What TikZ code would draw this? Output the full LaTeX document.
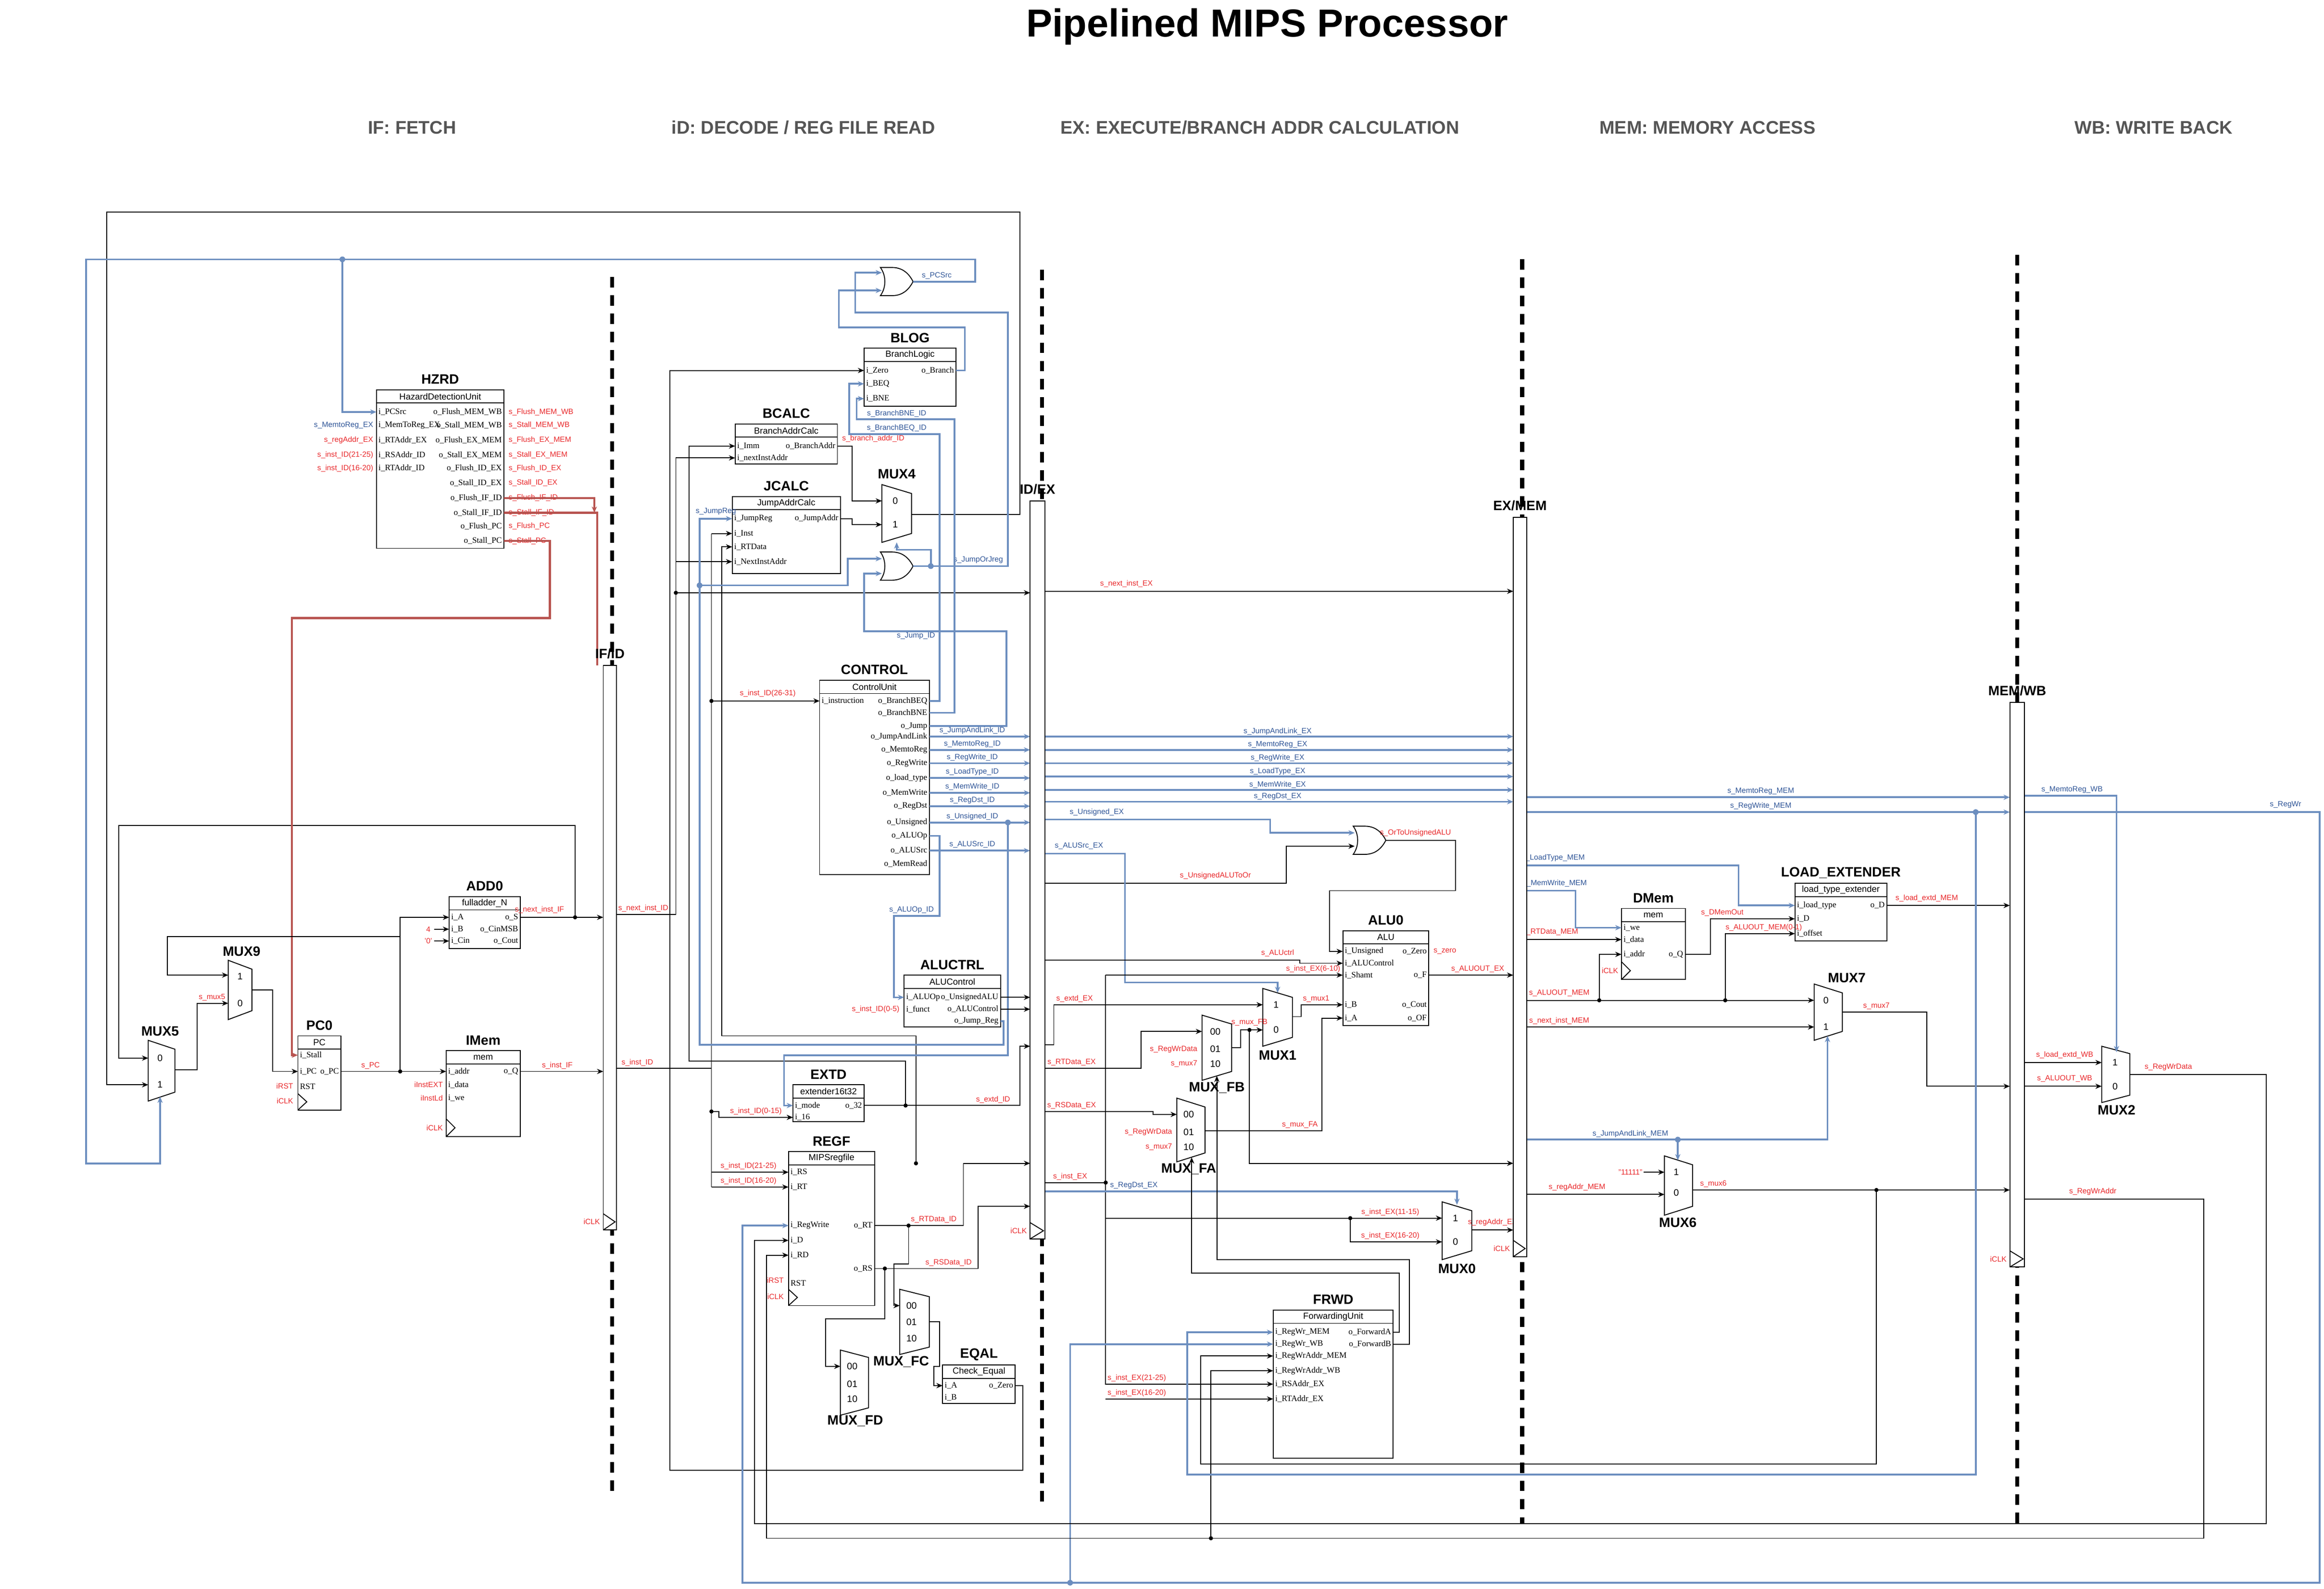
\documentclass[tikz,border=0pt]{standalone}
\usepackage{fontspec}
\setmainfont{Liberation Serif}
\setsansfont{Liberation Sans}
\usetikzlibrary{arrows.meta}

\definecolor{ctlblue}{HTML}{6C8EBF}
\definecolor{hzred}{HTML}{B85450}
\definecolor{sigred}{HTML}{E8282B}
\definecolor{csigblue}{HTML}{2F5597}
\definecolor{stagegray}{HTML}{555555}

\tikzset{
  box/.style={draw=black,line width=0.35pt},
  wire/.style={draw=black,line width=0.35pt},
  arr/.style={-{Stealth[length=2.4pt,width=2pt]}},
  ctl/.style={draw=ctlblue,line width=0.7pt},
  hz/.style={draw=hzred,line width=0.8pt},
  stage/.style={line width=1.6pt,dash pattern=on 4pt off 3pt},
  port/.style={font=\fontsize{3.2}{3.6}\selectfont,inner sep=0.6pt},
  cls/.style={font=\sffamily\fontsize{3.4}{4}\selectfont,inner sep=0.5pt},
  blkname/.style={font=\sffamily\bfseries\fontsize{5.2}{6}\selectfont,inner sep=0.5pt},
  sig/.style={text=sigred,font=\sffamily\fontsize{2.9}{3.4}\selectfont,inner sep=0.5pt},
  csig/.style={text=csigblue,font=\sffamily\fontsize{2.9}{3.4}\selectfont,inner sep=0.5pt},
  muxt/.style={font=\sffamily\fontsize{3.6}{4}\selectfont,inner sep=0.5pt},
  stagelbl/.style={text=stagegray,font=\sffamily\bfseries\fontsize{7}{8}\selectfont},
}

% block with title bar and name above
\newcommand\blk[7]{%
  \draw[box] (#2,#3) rectangle (#4,#5);
  \draw[box] (#2,#3+9) -- (#4,#3+9);
  \node[cls] (#1) at ({(#2+#4)/2},#3+4.5) {#6};
  \node[blkname] at ({(#2+#4)/2},#3-7) {#7};}
\newcommand\pin[3]{\node[port,anchor=west] at (#1,#2) {#3};}
\newcommand\pout[3]{\node[port,anchor=east] at (#1,#2) {#3};}
\newcommand\mux[6]{%
  \draw[box] (#2,#3) -- (#4,#3+#6) -- (#4,#5-#6) -- (#2,#5) -- cycle;
  \coordinate (#1) at ({(#2+#4)/2},{(#3+#5)/2});}
\newcommand\orgate[3]{%
  \draw[box] (#2,#3-9.5) -- (#2+8,#3-9.5) .. controls (#2+16,#3-9.5) and (#2+20,#3-4) .. (#2+22,#3)
    .. controls (#2+20,#3+4) and (#2+16,#3+9.5) .. (#2+8,#3+9.5) -- (#2,#3+9.5)
    .. controls (#2+4,#3+4) and (#2+4,#3-4) .. (#2,#3-9.5) -- cycle;
  \coordinate (#1) at (#2+22,#3);}
\newcommand\preg[6]{%
  \draw[box,fill=white] (#2,#3) rectangle (#4,#5);
  \draw[box] (#2,#5-11) -- (#4-1,#5-5.5) -- (#2,#5);
  \node[blkname] (#1) at ({(#2+#4)/2},#3-8) {#6};
  \node[sig,anchor=east] at (#2-1,#5-5.5) {iCLK};}
\newcommand\jn[2]{\fill (#1,#2) circle (0.8pt);}
\newcommand\jnb[2]{\fill[ctlblue] (#1,#2) circle (1.1pt);}
\newcommand\clk[3]{\draw[box] (#1,#2) -- (#1+6,{(#2+#3)/2}) -- (#1,#3);}

\begin{document}
\begin{tikzpicture}[x=0.2mm,y=-0.2mm]
\useasboundingbox (0,0) rectangle (1568,1072);

% titles
\node[font=\sffamily\bfseries\fontsize{15}{18}\selectfont] at (855,18) {Pipelined MIPS Processor};
\node[stagelbl] at (278,86) {IF: FETCH};
\node[stagelbl] at (542,86) {iD: DECODE / REG FILE READ};
\node[stagelbl] at (850,86) {EX: EXECUTE/BRANCH ADDR CALCULATION};
\node[stagelbl] at (1152,86) {MEM: MEMORY ACCESS};
\node[stagelbl] at (1453,86) {WB: WRITE BACK};

% stage borders
\draw[stage] (413,187) -- (413,1010);
\draw[stage] (703,182) -- (703,1015);
\draw[stage] (1027,175) -- (1027,1028);
\draw[stage] (1361,172) -- (1361,1033);

% ---------------- blocks
\blk{hzrd}{254}{263}{340}{370}{HazardDetectionUnit}{HZRD}
\pin{254}{278}{i\_PCSrc}
\pin{254}{287}{i\_MemToReg\_EX}
\pin{254}{297}{i\_RTAddr\_EX}
\pin{254}{307}{i\_RSAddr\_ID}
\pin{254}{316}{i\_RTAddr\_ID}
\foreach \y/\t in {278/Flush\_MEM\_WB,287/Stall\_MEM\_WB,297/Flush\_EX\_MEM,307/Stall\_EX\_MEM,
  316/Flush\_ID\_EX,326/Stall\_ID\_EX,336/Flush\_IF\_ID,346/Stall\_IF\_ID,355/Flush\_PC,365/Stall\_PC}{
  \pout{340}{\y}{o\_\t}
  \node[sig,anchor=west] at (342,\y) {s\_\t};
}
\node[csig,anchor=east] at (253,287) {s\_MemtoReg\_EX};
\node[sig,anchor=east] at (253,297) {s\_regAddr\_EX};
\node[sig,anchor=east] at (253,307) {s\_inst\_ID(21-25)};
\node[sig,anchor=east] at (253,316) {s\_inst\_ID(16-20)};

\blk{add0}{303}{605}{351}{640}{fulladder\_N}{ADD0}
\pin{303}{619}{i\_A}\pin{303}{627}{i\_B}\pin{303}{635}{i\_Cin}
\pout{351}{619}{o\_S}\pout{351}{627}{o\_CinMSB}\pout{351}{635}{o\_Cout}
\node[sig] at (289,627) {4};
\node[sig] at (289,635) {'0'};
\draw[wire,arr] (293,627) -- (303,627);
\draw[wire,arr] (293,635) -- (303,635);

\blk{pc0}{201}{699}{230}{749}{PC}{PC0}
\pin{201}{712}{i\_Stall}\pin{201}{723}{i\_PC}\pin{201}{733}{RST}
\pout{230}{723}{o\_PC}\clk{201}{738}{749}
\node[sig,anchor=east] at (199,733) {iRST};
\node[sig,anchor=east] at (199,743) {iCLK};

\blk{imem}{301}{709}{351}{767}{mem}{IMem}
\pin{301}{723}{i\_addr}\pin{301}{732}{i\_data}\pin{301}{741}{i\_we}
\pout{351}{723}{o\_Q}\clk{301}{755}{767}
\node[sig,anchor=east] at (300,732) {iInstEXT};
\node[sig,anchor=east] at (300,741) {iInstLd};
\node[sig,anchor=east] at (300,761) {iCLK};

\blk{blog}{583}{235}{645}{274}{BranchLogic}{BLOG}
\pin{583}{250}{i\_Zero}\pin{583}{259}{i\_BEQ}\pin{583}{269}{i\_BNE}
\pout{645}{250}{o\_Branch}

\blk{bcalc}{496}{286}{565}{313}{BranchAddrCalc}{BCALC}
\pin{496}{301}{i\_Imm}\pin{496}{309}{i\_nextInstAddr}
\pout{565}{301}{o\_BranchAddr}

\blk{jcalc}{494}{335}{567}{387}{JumpAddrCalc}{JCALC}
\pin{494}{350}{i\_JumpReg}\pin{494}{360}{i\_Inst}\pin{494}{369}{i\_RTData}\pin{494}{379}{i\_NextInstAddr}
\pout{567}{350}{o\_JumpAddr}

\blk{control}{553}{459}{627}{590}{ControlUnit}{CONTROL}
\pin{553}{473}{i\_instruction}
\foreach \y/\t in {473/BranchBEQ,481/BranchBNE,490/Jump,497/JumpAndLink,506/MemtoReg,515/RegWrite,
  525/load\_type,535/MemWrite,544/RegDst,555/Unsigned,564/ALUOp,574/ALUSrc,583/MemRead}{
  \pout{627}{\y}{o\_\t}
}

\blk{aluctrl}{610}{658}{675}{693}{ALUControl}{ALUCTRL}
\pin{610}{673}{i\_ALUOp}\pin{610}{681}{i\_funct}
\pout{675}{673}{o\_UnsignedALU}\pout{675}{681}{o\_ALUControl}\pout{675}{689}{o\_Jump\_Reg}
\node[sig,anchor=east] at (608,681) {s\_inst\_ID(0-5)};

\blk{extd}{535}{732}{583}{757}{extender16t32}{EXTD}
\pin{535}{746}{i\_mode}\pin{535}{754}{i\_16}\pout{583}{746}{o\_32}

\blk{regf}{532}{777}{590}{881}{MIPSregfile}{REGF}
\pin{532}{791}{i\_RS}\pin{532}{801}{i\_RT}\pin{532}{827}{i\_RegWrite}
\pin{532}{837}{i\_D}\pin{532}{847}{i\_RD}\pin{532}{866}{RST}
\pout{590}{827}{o\_RT}\pout{590}{856}{o\_RS}\clk{532}{870}{881}
\node[sig,anchor=east] at (530,864) {iRST};
\node[sig,anchor=east] at (530,875) {iCLK};

\blk{eqal}{636}{921}{685}{947}{Check\_Equal}{EQAL}
\pin{636}{935}{i\_A}\pin{636}{943}{i\_B}\pout{685}{935}{o\_Zero}

\blk{alu0}{906}{628}{964}{692}{ALU}{ALU0}
\pin{906}{642}{i\_Unsigned}\pin{906}{650}{i\_ALUControl}\pin{906}{658}{i\_Shamt}
\pin{906}{678}{i\_B}\pin{906}{687}{i\_A}
\pout{964}{642}{o\_Zero}\pout{964}{658}{o\_F}\pout{964}{678}{o\_Cout}\pout{964}{687}{o\_OF}
\node[sig,anchor=west] at (966,642) {s\_zero};

\blk{frwd}{859}{884}{940}{984}{ForwardingUnit}{FRWD}
\pin{859}{899}{i\_RegWr\_MEM}\pin{859}{907}{i\_RegWr\_WB}\pin{859}{915}{i\_RegWrAddr\_MEM}
\pin{859}{925}{i\_RegWrAddr\_WB}\pin{859}{934}{i\_RSAddr\_EX}\pin{859}{944}{i\_RTAddr\_EX}
\pout{940}{899}{o\_ForwardA}\pout{940}{907}{o\_ForwardB}

\blk{dmem}{1094}{613}{1137}{661}{mem}{DMem}
\pin{1094}{626}{i\_we}\pin{1094}{634}{i\_data}\pin{1094}{644}{i\_addr}
\pout{1137}{644}{o\_Q}\clk{1094}{649}{661}
\node[sig,anchor=east] at (1093,655) {iCLK};

\blk{lext}{1211}{596}{1273}{635}{load\_type\_extender}{LOAD\_EXTENDER}
\pin{1211}{611}{i\_load\_type}\pin{1211}{620}{i\_D}\pin{1211}{630}{i\_offset}
\pout{1273}{611}{o\_D}

% ---------------- multiplexers
\mux{mux9}{154}{648}{170}{688}{6}
\node[muxt] at (162,659) {1};\node[muxt] at (162,677) {0};
\node[blkname] at (163,642) {MUX9};
\mux{mux5}{100}{702}{118}{743}{6}
\node[muxt] at (108,714) {0};\node[muxt] at (108,732) {1};
\node[blkname] at (108,696) {MUX5};
\mux{mux4}{595}{327}{615}{366}{6}
\node[muxt] at (604,338) {0};\node[muxt] at (604,354) {1};
\node[blkname] at (605,320) {MUX4};
\mux{mux1}{852}{667}{872}{706}{6}
\node[muxt] at (861,678) {1};\node[muxt] at (861,695) {0};
\node[blkname] at (862,712) {MUX1};
\mux{muxfb}{811}{685}{831}{729}{6}
\node[muxt] at (820,696) {00};\node[muxt] at (820,708) {01};\node[muxt] at (820,718) {10};
\node[blkname] at (821,734) {MUX\_FB};
\mux{muxfa}{794}{741}{813}{784}{6}
\node[muxt] at (802,752) {00};\node[muxt] at (802,764) {01};\node[muxt] at (802,774) {10};
\node[blkname] at (802,789) {MUX\_FA};
\mux{mux0}{973}{811}{993}{850}{6}
\node[muxt] at (982,822) {1};\node[muxt] at (982,838) {0};
\node[blkname] at (983,856) {MUX0};
\mux{muxfc}{607}{870}{627}{914}{5}
\node[muxt] at (615,881) {00};\node[muxt] at (615,892) {01};\node[muxt] at (615,903) {10};
\node[blkname] at (608,919) {MUX\_FC};
\mux{muxfd}{567}{911}{586}{955}{5}
\node[muxt] at (575,922) {00};\node[muxt] at (575,934) {01};\node[muxt] at (575,944) {10};
\node[blkname] at (577,959) {MUX\_FD};
\mux{mux7}{1224}{664}{1243}{702}{6}
\node[muxt] at (1232,675) {0};\node[muxt] at (1232,693) {1};
\node[blkname] at (1246,660) {MUX7};
\mux{mux6}{1123}{780}{1142}{820}{6}
\node[muxt] at (1131,791) {1};\node[muxt] at (1131,805) {0};
\node[blkname] at (1132,825) {MUX6};
\mux{mux2}{1418}{706}{1437}{744}{5}
\node[muxt] at (1427,717) {1};\node[muxt] at (1427,733) {0};
\node[blkname] at (1428,749) {MUX2};

% ---------------- gates
\orgate{or1}{594}{190}
\orgate{or2}{594}{382}
\orgate{or3}{913}{567}

% ---------------- IF wires
\draw[wire,arr] (615,347) -- (688,347) -- (688,143) -- (72,143) -- (72,732) -- (100,732);
\draw[wire,arr] (388,619) -- (388,557) -- (80,557) -- (80,714) -- (100,714);
\draw[ctl,arr] (616,190) -- (658,190) -- (658,175) -- (58,175) -- (58,785) -- (108,785) -- (108,740);
\node[csig] at (632,186) {s\_PCSrc};
\draw[ctl,arr] (231,175) -- (231,278) -- (254,278); \jnb{231}{175}
\draw[hz,arr] (340,336) -- (401,336) -- (401,346);
\draw[hz] (340,346) -- (403,346) -- (403,449);
\draw[hz,arr] (340,365) -- (371,365) -- (371,417) -- (197,417) -- (197,712) -- (201,712);
\draw[wire,arr] (118,722) -- (133,722) -- (133,677) -- (154,677);
\node[sig] at (143,673) {s\_mux5};
\draw[wire,arr] (170,668) -- (184,668) -- (184,723) -- (201,723);
\draw[wire,arr] (230,723) -- (301,723); \node[sig] at (250,719) {s\_PC}; \jn{270}{723}
\draw[wire,arr] (270,723) -- (270,619) -- (303,619);
\draw[wire,arr] (270,632) -- (113,632) -- (113,658) -- (154,658);
\draw[wire,arr] (351,619) -- (407,619); \node[sig] at (364,614) {s\_next\_inst\_IF}; \jn{388}{619}
\draw[wire,arr] (351,723) -- (407,723); \node[sig] at (376,719) {s\_inst\_IF};

% ---------------- ID wires
\draw[wire,arr] (416,617) -- (456,617) -- (456,309) -- (496,309);
\node[sig] at (434,613) {s\_next\_inst\_ID};
\draw[wire,arr] (456,379) -- (494,379);
\draw[wire,arr] (456,400) -- (695,400); \jn{456}{400}
\draw[wire] (416,721) -- (480,721); \node[sig] at (430,717) {s\_inst\_ID};
\draw[wire] (480,360) -- (480,801);
\draw[wire,arr] (480,360) -- (494,360);
\draw[wire,arr] (480,473) -- (553,473); \jn{480}{473}
\node[sig] at (518,468) {s\_inst\_ID(26-31)};
\draw[wire,arr] (480,791) -- (532,791); \node[sig] at (505,787) {s\_inst\_ID(21-25)};
\draw[wire,arr] (480,801) -- (532,801); \node[sig] at (505,797) {s\_inst\_ID(16-20)};
\draw[wire,arr] (480,750) -- (485,750) -- (485,754) -- (535,754); \jn{480}{750}
\node[sig] at (510,750) {s\_inst\_ID(0-15)};
\draw[wire] (583,746) -- (611,746); \jn{611}{746}
\draw[wire,arr] (611,746) -- (688,746) -- (688,706) -- (695,706); \node[sig] at (670,742) {s\_extd\_ID};
\draw[wire,arr] (611,746) -- (611,716) -- (465,716) -- (465,301) -- (496,301);
\draw[wire,arr] (565,301) -- (575,301) -- (575,338) -- (595,338);
\node[sig,anchor=west] at (567,296) {s\_branch\_addr\_ID};
\draw[wire,arr] (567,350) -- (575,350) -- (575,354) -- (595,354);
\draw[wire,arr] (590,827) -- (650,827) -- (650,785) -- (695,785); \node[sig] at (630,823) {s\_RTData\_ID};
\draw[wire,arr] (618,785) -- (618,699) -- (487,699) -- (487,369) -- (494,369); \jn{618}{785}
\draw[wire,arr] (613,827) -- (613,853) -- (603,853) -- (603,881) -- (607,881); \jn{613}{827}
\draw[wire,arr] (590,856) -- (660,856) -- (660,814) -- (695,814); \node[sig] at (640,852) {s\_RSData\_ID};
\draw[wire,arr] (597,856) -- (597,890) -- (557,890) -- (557,922) -- (567,922); \jn{597}{856}
\draw[wire,arr] (627,892) -- (634,892) -- (634,922) -- (630,922) -- (630,935) -- (636,935);
\draw[wire,arr] (685,935) -- (690,935) -- (690,992) -- (452,992) -- (452,250) -- (583,250);
\draw[ctl,arr] (628,382) -- (628,371) -- (605,371) -- (605,366); \jnb{628}{382}
\draw[ctl,arr] (616,382) -- (680,382) -- (680,211) -- (577,211) -- (577,184) -- (595,184);
\node[csig] at (660,378) {s\_JumpOrJreg};
\draw[ctl,arr] (645,250) -- (651,250) -- (651,221) -- (566,221) -- (566,196) -- (595,196);
\draw[ctl,arr] (627,473) -- (634,473) -- (634,293) -- (573,293) -- (573,259) -- (583,259);
\node[csig] at (605,289) {s\_BranchBEQ\_ID};
\draw[ctl,arr] (627,481) -- (644,481) -- (644,283) -- (578,283) -- (578,269) -- (583,269);
\node[csig] at (605,279) {s\_BranchBNE\_ID};
\draw[ctl,arr] (627,490) -- (679,490) -- (679,426) -- (583,426) -- (583,387) -- (595,387);
\node[csig] at (618,429) {s\_Jump\_ID};
\draw[ctl,arr] (675,689) -- (677,689) -- (677,705) -- (472,705) -- (472,350) -- (494,350);
\node[csig] at (483,345) {s\_JumpReg};
\draw[ctl,arr] (472,395) -- (572,395) -- (572,377) -- (595,377); \jnb{472}{395}
\foreach \y/\t in {497/JumpAndLink,506/MemtoReg,515/RegWrite,525/LoadType,535/MemWrite,544/RegDst,555/Unsigned,574/ALUSrc}{
  \draw[ctl,arr] (627,\y) -- (695,\y);
  \node[csig] at (656,\y-4) {s\_\t\_ID};
}
\draw[ctl,arr] (680,555) -- (680,712) -- (529,712) -- (529,746) -- (535,746); \jnb{680}{555}
\draw[ctl,arr] (627,564) -- (634,564) -- (634,618) -- (603,618) -- (603,673) -- (610,673);
\node[csig] at (615,614) {s\_ALUOp\_ID};
\draw[wire,arr] (675,673) -- (695,673);
\draw[wire,arr] (675,681) -- (695,681);

% ---------------- EX wires
\foreach \y/\t in {497/JumpAndLink,506/MemtoReg,515/RegWrite,524/LoadType,533/MemWrite,541/RegDst}{
  \draw[ctl,arr] (705,\y) -- (1021,\y);
  \node[csig] at (862,\y-3.5) {s\_\t\_EX};
}
\draw[wire,arr] (705,399) -- (1021,399); \node[sig] at (760,394) {s\_next\_inst\_EX};
\draw[ctl,arr] (705,553) -- (857,553) -- (857,562) -- (914,562); \node[csig] at (740,548) {s\_Unsigned\_EX};
\draw[wire,arr] (705,596) -- (868,596) -- (868,571) -- (914,571); \node[sig] at (820,591) {s\_UnsignedALUToOr};
\draw[wire,arr] (935,567) -- (982,567) -- (982,601) -- (897,601) -- (897,642) -- (906,642);
\node[sig] at (955,562) {s\_OrToUnsignedALU};
\draw[ctl,arr] (705,576) -- (759,576) -- (759,663) -- (862,663) -- (862,670);
\node[csig] at (728,571) {s\_ALUSrc\_EX};
\draw[wire,arr] (705,648) -- (877,648) -- (877,650) -- (906,650); \node[sig] at (862,643) {s\_ALUctrl};
\draw[wire,arr] (746,658) -- (906,658); \node[sig] at (886,654) {s\_inst\_EX(6-10)};
\draw[wire] (705,798) -- (746,798); \node[sig] at (722,794) {s\_inst\_EX}; \jn{746}{798}
\draw[wire,arr] (746,658) -- (746,934) -- (859,934); \node[sig] at (767,930) {s\_inst\_EX(21-25)};
\draw[wire,arr] (746,944) -- (859,944); \node[sig] at (767,940) {s\_inst\_EX(16-20)};
\draw[wire,arr] (746,822) -- (973,822); \jn{911}{822} \node[sig] at (938,818) {s\_inst\_EX(11-15)};
\draw[wire,arr] (911,822) -- (911,838) -- (973,838); \node[sig] at (938,834) {s\_inst\_EX(16-20)};
\draw[ctl,arr] (705,804) -- (983,804) -- (983,813); \node[csig] at (765,800) {s\_RegDst\_EX};
\draw[wire,arr] (705,705) -- (711,705) -- (711,678) -- (852,678); \node[sig] at (725,674) {s\_extd\_EX};
\draw[wire,arr] (705,721) -- (770,721) -- (770,696) -- (811,696); \node[sig] at (723,717) {s\_RTData\_EX};
\draw[wire,arr] (705,750) -- (778,750) -- (778,752) -- (794,752); \node[sig] at (723,746) {s\_RSData\_EX};
\node[sig,anchor=east] at (809,708) {s\_RegWrData};\node[sig,anchor=east] at (809,718) {s\_mux7};
\node[sig,anchor=east] at (792,764) {s\_RegWrData};\node[sig,anchor=east] at (792,774) {s\_mux7};
\draw[wire,arr] (831,707) -- (837,707) -- (837,695) -- (852,695); \node[sig] at (843,690) {s\_mux\_FB};
\draw[wire,arr] (843,695) -- (843,785) -- (1021,785); \jn{843}{695}
\draw[wire,arr] (872,686) -- (878,686) -- (878,678) -- (906,678); \node[sig] at (888,674) {s\_mux1};
\draw[wire,arr] (813,763) -- (892,763) -- (892,687) -- (906,687); \node[sig] at (877,759) {s\_mux\_FA};
\draw[wire,arr] (964,658) -- (1021,658); \node[sig] at (997,654) {s\_ALUOUT\_EX};
\draw[wire,arr] (993,830) -- (1021,830); \node[sig] at (1007,825) {s\_regAddr\_EX};
\draw[wire,arr] (940,899) -- (944,899) -- (944,859) -- (804,859) -- (804,781);
\draw[wire,arr] (940,907) -- (951,907) -- (951,850) -- (821,850) -- (821,726);

% ---------------- MEM wires
\draw[ctl,arr] (1030,538) -- (1356,538); \node[csig] at (1188,534) {s\_MemtoReg\_MEM};
\draw[ctl,arr] (1030,548) -- (1356,548); \node[csig] at (1188,544) {s\_RegWrite\_MEM}; \jnb{1333}{548}
\draw[ctl,arr] (1030,584) -- (1173,584) -- (1173,611) -- (1211,611); \node[csig] at (1048,579) {s\_LoadType\_MEM};
\draw[ctl,arr] (1030,601) -- (1063,601) -- (1063,626) -- (1094,626); \node[csig] at (1049,596) {s\_MemWrite\_MEM};
\draw[wire,arr] (1030,634) -- (1094,634); \node[sig] at (1046,629) {s\_RTData\_MEM};
\draw[wire,arr] (1030,675) -- (1224,675); \node[sig] at (1052,670) {s\_ALUOUT\_MEM};
\draw[wire,arr] (1079,675) -- (1079,644) -- (1094,644); \jn{1079}{675}
\draw[wire,arr] (1164,675) -- (1164,630) -- (1211,630); \jn{1164}{675}
\node[sig] at (1190,626) {s\_ALUOUT\_MEM(0-1)};
\draw[wire,arr] (1137,644) -- (1154,644) -- (1154,620) -- (1211,620); \node[sig] at (1162,616) {s\_DMemOut};
\draw[wire,arr] (1030,693) -- (1224,693); \node[sig] at (1052,689) {s\_next\_inst\_MEM};
\draw[ctl,arr] (1030,769) -- (1233,769) -- (1233,699); \node[csig] at (1100,765) {s\_JumpAndLink\_MEM};
\draw[ctl,arr] (1132,769) -- (1132,783); \jnb{1132}{769}
\node[sig] at (1100,791) {"11111"};
\draw[wire,arr] (1109,791) -- (1123,791);
\draw[wire,arr] (1030,806) -- (1123,806); \node[sig] at (1064,801) {s\_regAddr\_MEM};
\draw[wire,arr] (1142,803) -- (1356,803); \node[sig] at (1156,799) {s\_mux6}; \jn{1266}{803}
\draw[wire,arr] (1273,611) -- (1356,611); \node[sig] at (1300,606) {s\_load\_extd\_MEM};
\draw[wire,arr] (1243,683) -- (1300,683) -- (1300,733) -- (1356,733); \node[sig] at (1266,679) {s\_mux7};

% ---------------- WB wires
\draw[ctl,arr] (1366,537) -- (1428,537) -- (1428,710); \node[csig] at (1398,533) {s\_MemtoReg\_WB};
\draw[ctl,arr] (1366,548) -- (1565,548) -- (1565,1068) -- (501,1068) -- (501,827) -- (532,827);
\node[csig] at (1542,543) {s\_RegWr};
\draw[ctl,arr] (722,1068) -- (722,907) -- (859,907); \jnb{722}{1068}
\draw[wire,arr] (1366,717) -- (1418,717); \node[sig] at (1393,712) {s\_load\_extd\_WB};
\draw[wire,arr] (1366,733) -- (1418,733); \node[sig] at (1393,728) {s\_ALUOUT\_WB};
\draw[wire,arr] (1437,725) -- (1529,725) -- (1529,1028) -- (509,1028) -- (509,837) -- (532,837);
\node[sig] at (1463,720) {s\_RegWrData};
\draw[wire,arr] (1366,809) -- (1487,809) -- (1487,1038) -- (517,1038) -- (517,847) -- (532,847);
\node[sig] at (1412,804) {s\_RegWrAddr};
\draw[wire,arr] (817,1038) -- (817,925) -- (859,925); \jn{817}{1038}
\draw[ctl,arr] (1333,548) -- (1333,995) -- (801,995) -- (801,899) -- (859,899);
\draw[wire,arr] (1266,803) -- (1266,988) -- (810,988) -- (810,915) -- (859,915);

% ---------------- pipeline registers
\preg{ifid}{407}{449}{416}{830}{IF/ID}
\preg{idex}{695}{338}{705}{836}{ID/EX}
\preg{exmem}{1021}{349}{1030}{848}{EX/MEM}
\preg{memwb}{1356}{474}{1366}{855}{MEM/WB}
\end{tikzpicture}
\end{document}
